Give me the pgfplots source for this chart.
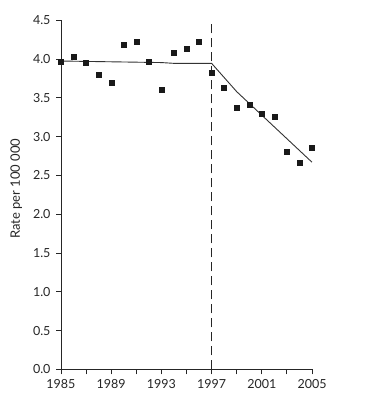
\documentclass[border=0pt]{standalone}
\usepackage{fontspec}
\setmainfont{Lato}
\usepackage{pgfplots}
\pgfplotsset{compat=1.18}
\begin{document}
\begin{tikzpicture}
\begin{axis}[
  scale only axis,
  width=251pt, height=349pt,
  xmin=1985, xmax=2005, ymin=0, ymax=4.5,
  axis x line=bottom, axis y line=left,
  axis line style={-, line width=0.9pt, black!85},
  xtick={1985,1989,...,2005},
  minor xtick={1987,1991,...,2003},
  ytick={0,0.5,...,4.5},
  tick align=outside,
  major tick length=5pt, minor tick length=5pt,
  tick style={line width=0.9pt, black!85},
  tick label style={font=\fontsize{12.5}{14}\selectfont, text=black!85},
  xticklabel style={yshift=-2pt},
  yticklabel style={xshift=-2pt},
  /pgf/number format/assume math mode=true,
  x tick label style={/pgf/number format/1000 sep={}},
  y tick label style={/pgf/number format/.cd, fixed, fixed zerofill, precision=1},
  ylabel={Rate per 100 000},
  ylabel style={font=\fontsize{13}{15}\selectfont, text=black!85, yshift=4pt, xshift=6pt},
  clip=false,
]
\addplot[black!85, line width=1pt, dash pattern=on 9pt off 5pt] coordinates {(1997,0) (1997,4.5)};
\addplot[black!80, line width=0.9pt] coordinates {
(1985,3.975) (1993,3.955) (1994,3.945) (1997,3.945) (1999,3.58) (2005,2.67)};
\addplot[only marks, mark=square*, mark size=2.5pt, black!90] coordinates {
(1985,3.97) (1986,4.03) (1987,3.95) (1988,3.80) (1989,3.70) (1990,4.18)
(1991,4.22) (1992,3.97) (1993,3.61) (1994,4.08) (1995,4.14) (1996,4.22)
(1997,3.83) (1998,3.63) (1999,3.37) (2000,3.41) (2001,3.29) (2002,3.26)
(2003,2.80) (2004,2.66) (2005,2.86)};
\end{axis}
\path (current axis.origin) ++(-61pt,-34.7pt) rectangle ++(368pt,404pt);
\end{tikzpicture}
\end{document}
